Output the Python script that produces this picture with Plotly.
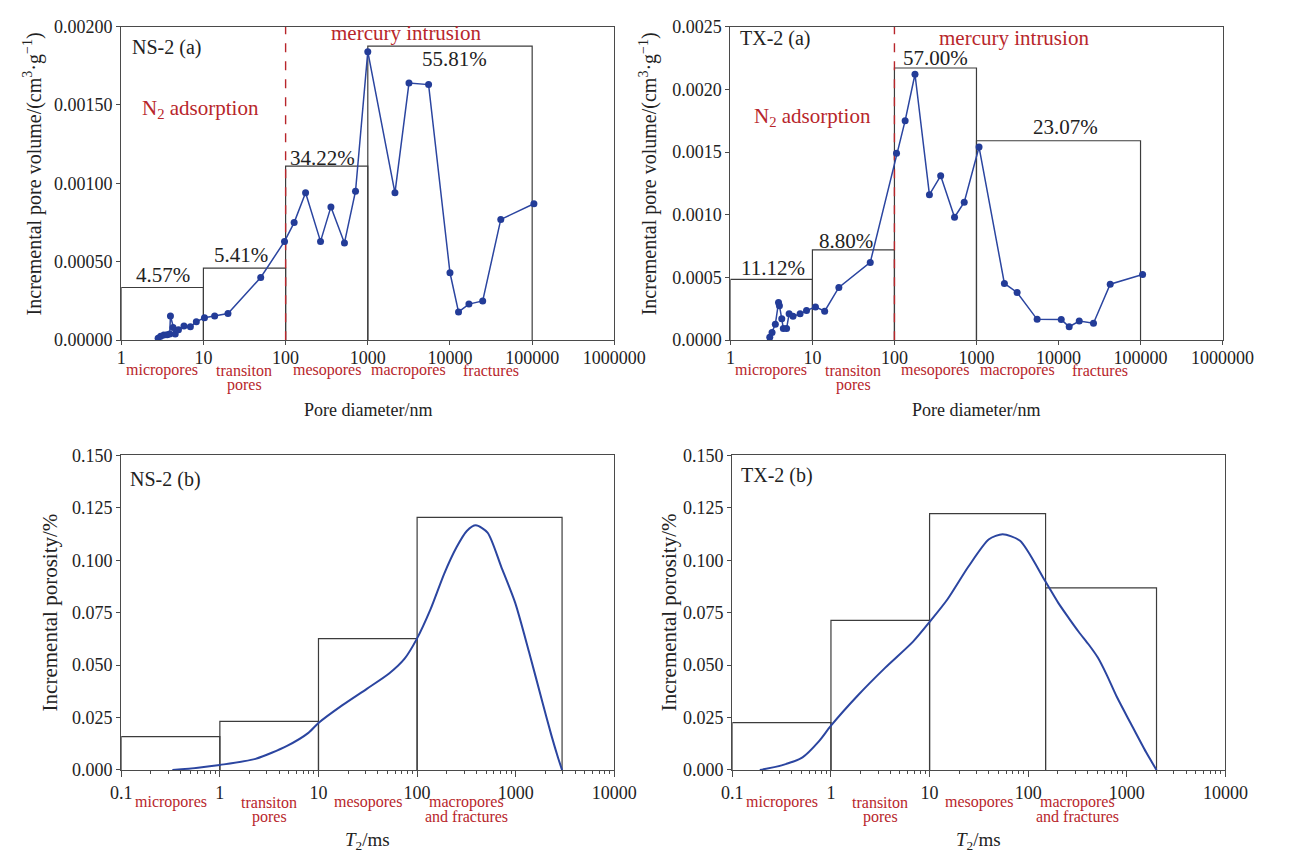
import math
import plotly.graph_objects as go

# ---------------- data ----------------
# NS-2 (a): pore diameter (nm) vs incremental pore volume (cm3/g)
ns_a_x = [2.81, 3.02, 3.30, 3.62, 3.89, 3.97, 4.27, 4.54, 4.97, 5.8, 6.94, 8.2, 10.3, 13.7, 19.9,
          49.8, 97, 127, 175, 266, 356, 520, 709, 1000, 2140, 3170, 5490, 10000, 12700, 17000,
          25000, 41500, 105000]
ns_a_y = [0.000012, 0.000025, 0.000033, 0.000035, 0.00004, 0.000154, 0.000081, 0.00004, 0.000067,
          0.000091, 0.000085, 0.000118, 0.000143, 0.000154, 0.00017, 0.0004, 0.00063, 0.00075,
          0.00094, 0.00063, 0.00085, 0.00062, 0.00095, 0.00184, 0.00094, 0.00164, 0.00163,
          0.00043, 0.00018, 0.00023, 0.00025, 0.00077, 0.00087]
ns_a_edges = [1, 10, 100, 1000, 100000]
ns_a_heights = [0.000336, 0.00046, 0.00111, 0.001875]
ns_a_pct = ["4.57%", "5.41%", "34.22%", "55.81%"]

# TX-2 (a)
tx_a_x = [3.02, 3.22, 3.53, 3.86, 3.96, 4.23, 4.42, 4.84, 5.2, 5.8, 7.08, 8.48, 10.9, 14.1, 21,
          50.7, 106, 135, 178, 267, 366, 540, 709, 1075, 2190, 3130, 5490, 10800, 13500, 17900,
          26700, 42700, 106000]
tx_a_y = [0.000023, 0.000062, 0.000127, 0.0003, 0.000275, 0.00017, 0.000093, 0.000093, 0.00021,
          0.00019, 0.00021, 0.000236, 0.000265, 0.000231, 0.00042, 0.00062, 0.00149, 0.00175,
          0.00212, 0.00116, 0.00131, 0.00098, 0.0011, 0.00154, 0.000452, 0.00038, 0.000166,
          0.000164, 0.000107, 0.000153, 0.000135, 0.000446, 0.000524]
tx_a_edges = [1, 10, 100, 1000, 100000]
tx_a_heights = [0.000485, 0.00072, 0.00217, 0.00159]
tx_a_pct = ["11.12%", "8.80%", "57.00%", "23.07%"]

# NS-2 (b): T2 (ms) vs incremental porosity (%)
ns_b_x = [0.33, 0.6, 1.0, 2.3, 4.8, 7.9, 10, 17.5, 30.9, 52, 74.7, 99, 137, 189, 251, 319, 394,
          518, 713, 986, 1360, 1880, 2300, 2700, 2950]
ns_b_y = [0, 0.0011, 0.0024, 0.0053, 0.0115, 0.0177, 0.0224, 0.0309, 0.0387, 0.046, 0.0531,
          0.0624, 0.0767, 0.0938, 0.1062, 0.114, 0.1167, 0.1132, 0.0969, 0.0798, 0.0565, 0.0317,
          0.0165, 0.0055, 0]
ns_b_edges = [0.1, 1, 10, 100, 2950]
ns_b_heights = [0.0159, 0.0232, 0.0626, 0.1205]

# TX-2 (b)
tx_b_x = [0.19, 0.316, 0.515, 0.75, 1.0, 1.87, 3.56, 6.8, 10.3, 15.2, 24.7, 40, 55, 82.7, 146,
          201, 260, 326, 414, 508, 622, 791, 1090, 1570, 2000]
tx_b_y = [0, 0.0022, 0.006, 0.0135, 0.0211, 0.0355, 0.0488, 0.0612, 0.0713, 0.0814, 0.0969, 0.11,
          0.1124, 0.1093, 0.0907, 0.0798, 0.0722, 0.0658, 0.0596, 0.0536, 0.0456, 0.0349, 0.0224,
          0.0084, 0]
tx_b_edges = [0.1, 1, 10, 150, 2000]
tx_b_heights = [0.0226, 0.0713, 0.1222, 0.0868]

top_xticks = [1, 10, 100, 1000, 10000, 100000, 1000000]
bot_xticks = [0.1, 1, 10, 100, 1000, 10000]
bot_xticktext = ["0.1", "1", "10", "100", "1000", "10000"]
top_classes = [("micropores", 3.16), ("transiton|pores", 31.6), ("mesopores", 316),
               ("macropores", 3162), ("fractures", 31623)]
bot_classes = [("micropores", 0.316), ("transiton|pores", 3.16), ("mesopores", 31.6),
               ("macropores|and fractures", 316)]

# ---------------- styling ----------------
W, H = 1300, 863
FONT = "Times New Roman, Liberation Serif, serif"
RED = "#b8262b"
BLUE = "#2b45a0"
FRAME = "#4a4a4a"
BOX = "#3c3c3c"


def px(x):
    return x / W


def py(y):
    return 1 - y / H


fig = go.Figure()


def add_boxes(edges, heights, xa, ya):
    for i, h in enumerate(heights):
        lo, hi = edges[i], edges[i + 1]
        fig.add_trace(go.Scatter(x=[lo, lo, hi, hi], y=[0, h, h, 0], mode="lines",
                                 line=dict(color=BOX, width=1.2), xaxis=xa, yaxis=ya,
                                 hoverinfo="skip", showlegend=False))


# top panels
for xs, ys, edges, heights, ymax, xa, ya in [
    (ns_a_x, ns_a_y, ns_a_edges, ns_a_heights, 0.002, "x", "y"),
    (tx_a_x, tx_a_y, tx_a_edges, tx_a_heights, 0.0025, "x2", "y2"),
]:
    add_boxes(edges, heights, xa, ya)
    fig.add_trace(go.Scatter(x=[100, 100], y=[0, ymax], mode="lines",
                             line=dict(color=RED, width=1.4, dash="dash"),
                             xaxis=xa, yaxis=ya, hoverinfo="skip", showlegend=False))
    fig.add_trace(go.Scatter(x=xs, y=ys, mode="lines+markers",
                             line=dict(color=BLUE, width=1.5),
                             marker=dict(color="#233c98", size=7),
                             xaxis=xa, yaxis=ya, showlegend=False))

# bottom panels
for xs, ys, edges, heights, xa, ya in [
    (ns_b_x, ns_b_y, ns_b_edges, ns_b_heights, "x3", "y3"),
    (tx_b_x, tx_b_y, tx_b_edges, tx_b_heights, "x4", "y4"),
]:
    add_boxes(edges, heights, xa, ya)
    fig.add_trace(go.Scatter(x=xs, y=ys, mode="lines",
                             line=dict(color=BLUE, width=2, shape="spline", smoothing=0.7),
                             xaxis=xa, yaxis=ya, showlegend=False))

# invisible traces so the minor-tick overlay axes get drawn
for xa, ya in [("x5", "y3"), ("x6", "y4")]:
    fig.add_trace(go.Scatter(x=[1], y=[0], mode="markers", marker=dict(opacity=0),
                             xaxis=xa, yaxis=ya, hoverinfo="skip", showlegend=False))

axis_common = dict(showline=True, linecolor=FRAME, linewidth=1.2, mirror=True, ticks="outside",
                   ticklen=4, tickcolor=FRAME, showgrid=False, zeroline=False,
                   tickfont=dict(family=FONT, size=18, color="#222"))

layout = dict(
    width=W, height=H, margin=dict(l=0, r=0, t=0, b=0),
    paper_bgcolor="white", plot_bgcolor="white", showlegend=False,
    font=dict(family=FONT),
)

layout["xaxis"] = dict(axis_common, type="log", range=[0, 6], tickvals=top_xticks,
                       ticktext=[str(v) for v in top_xticks], ticklabelstandoff=-3,
                       domain=[px(114), px(624)], anchor="y")
layout["xaxis2"] = dict(axis_common, type="log", range=[0, 6], tickvals=top_xticks,
                        ticktext=[str(v) for v in top_xticks], ticklabelstandoff=-3,
                        domain=[px(744), px(1253)], anchor="y2")
minor_vals = [k * 10 ** d for d in range(-1, 4) for k in range(2, 10)]
for name, mname, dom, anc, ov in [("xaxis3", "xaxis5", (114, 624), "y3", "x3"),
                                  ("xaxis4", "xaxis6", (746, 1256), "y4", "x4")]:
    layout[name] = dict(axis_common, type="log", range=[-1, 4], tickvals=bot_xticks,
                        ticktext=bot_xticktext, ticklen=6,
                        domain=[px(dom[0]), px(dom[1])], anchor=anc)
    layout[mname] = dict(type="log", range=[-1, 4], tickvals=minor_vals, ticks="outside",
                         ticklen=3, tickcolor=FRAME, showticklabels=False, showline=False,
                         showgrid=False, zeroline=False, overlaying=ov, side="bottom",
                         domain=[px(dom[0]), px(dom[1])], anchor=anc)
layout["yaxis"] = dict(axis_common, range=[0, 0.002], dtick=0.0005, tickformat=".5f",
                       domain=[py(338), py(17)], anchor="x")
layout["yaxis2"] = dict(axis_common, range=[0, 0.0025], dtick=0.0005, tickformat=".4f",
                        domain=[py(338), py(17)], anchor="x2")
layout["yaxis3"] = dict(axis_common, range=[0, 0.15], dtick=0.025, tickformat=".3f",
                        domain=[py(778), py(456)], anchor="x3")
layout["yaxis4"] = dict(axis_common, range=[0, 0.15], dtick=0.025, tickformat=".3f",
                        domain=[py(778), py(456)], anchor="x4")
fig.update_layout(**layout)

ann = []


def text(x, y, s, xref="paper", size=19, color="#222", xanchor="center", yanchor="middle",
         angle=0):
    ann.append(dict(x=x, y=y, xref=xref, yref="paper", text=s, showarrow=False,
                    font=dict(family=FONT, size=size, color=color), xanchor=xanchor,
                    yanchor=yanchor, textangle=angle, borderpad=0))


# percent labels (x in data units, y in pixels)
for xr, lbls, pos in [
    ("x", ns_a_pct, [(3.2, 271), (29, 251), (280, 151), (11500, 50)]),
    ("x2", tx_a_pct, [(3.3, 264), (25.7, 236), (316, 49), (12300, 120)]),
]:
    for lbl, (xv, yv) in zip(lbls, pos):
        text(math.log10(xv), py(yv), lbl, xref=xr, size=21)

# panel names
text(px(124), py(38), "NS-2 (a)", size=20, xanchor="left")
text(px(753), py(29), "TX-2 (a)", size=20, xanchor="left")
text(px(122), py(481), "NS-2 (b)", size=20, xanchor="left")
text(px(754), py(477), "TX-2 (b)", size=20, xanchor="left")

# method labels
text(math.log10(2950), py(24), "mercury intrusion", xref="x", size=21, color=RED)
text(math.log10(2900), py(29), "mercury intrusion", xref="x2", size=21, color=RED)
text(math.log10(9.3), py(101), "N<sub>2</sub> adsorption", xref="x", size=21, color=RED)
text(math.log10(10), py(110), "N<sub>2</sub> adsorption", xref="x2", size=21, color=RED)

# pore class labels
for xr in ["x", "x2"]:
    for lbl, xv in top_classes:
        for k, line in enumerate(lbl.split("|")):
            text(math.log10(xv), py(369 + 15 * k), line, xref=xr, size=16, color=RED)
for xr in ["x3", "x4"]:
    for lbl, xv in bot_classes:
        for k, line in enumerate(lbl.split("|")):
            text(math.log10(xv), py(811 + 15 * k), line, xref=xr, size=16, color=RED)

# axis titles
text(px(369), py(410), "Pore diameter/nm", size=18)
text(px(998), py(410), "Pore diameter/nm", size=18)
text(px(369), py(851), "<i>T</i><sub>2</sub>/ms", size=19)
text(px(1001), py(851), "<i>T</i><sub>2</sub>/ms", size=19)
ytitle_a = "Incremental pore volume/(cm<sup>3</sup>·g<sup>−1</sup>)"
text(px(22), py(168), ytitle_a, size=20, angle=-90)
text(px(659), py(168), ytitle_a, size=20, angle=-90)
text(px(40), py(617), "Incremental porosity/%", size=21, angle=-90)
text(px(680), py(617), "Incremental porosity/%", size=21, angle=-90)

fig.update_layout(annotations=ann)
fig.write_html("out.html")
